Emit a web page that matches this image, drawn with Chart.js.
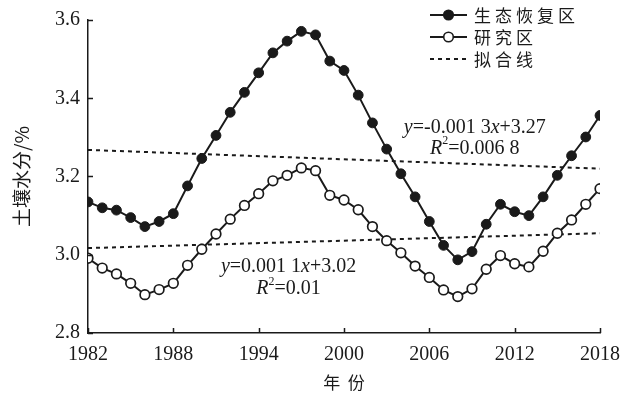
<!DOCTYPE html>
<html>
<head>
<meta charset="utf-8">
<script src="https://cdn.jsdelivr.net/npm/chart.js@4"></script>
<style>
  body { margin: 0; background: #fff; }
  #wrap { width: 621px; height: 398px; }
</style>
</head>
<body>
<div id="wrap"><canvas id="soilChart" width="621" height="398"></canvas></div>
<script>
// data
const years = [1982, 1983, 1984, 1985, 1986, 1987, 1988, 1989, 1990, 1991, 1992, 1993,
  1994, 1995, 1996, 1997, 1998, 1999, 2000, 2001, 2002, 2003, 2004, 2005, 2006, 2007,
  2008, 2009, 2010, 2011, 2012, 2013, 2014, 2015, 2016, 2017, 2018];
const restored = [3.135, 3.120, 3.114, 3.095, 3.072, 3.085, 3.105, 3.176, 3.246, 3.305,
  3.364, 3.415, 3.465, 3.516, 3.546, 3.571, 3.562, 3.495, 3.471, 3.408, 3.337, 3.270,
  3.207, 3.148, 3.085, 3.024, 2.987, 3.008, 3.078, 3.129, 3.110, 3.100, 3.148, 3.203,
  3.253, 3.301, 3.356];
const study = [2.991, 2.966, 2.951, 2.927, 2.898, 2.911, 2.927, 2.973, 3.014, 3.053,
  3.091, 3.126, 3.156, 3.189, 3.203, 3.222, 3.215, 3.152, 3.140, 3.115, 3.072, 3.036,
  3.005, 2.971, 2.942, 2.910, 2.893, 2.913, 2.963, 2.998, 2.977, 2.969, 3.009, 3.055,
  3.089, 3.129, 3.169];
const fitYears = [1982, 2018];
const fitRestored = [3.268, 3.220];
const fitStudy = [3.017, 3.055];
const xTicks = [1982, 1988, 1994, 2000, 2006, 2012, 2018];
const yTicks = [2.8, 3.0, 3.2, 3.4, 3.6];
const seriesNames = ['生态恢复区', '研究区', '拟合线'];

const ink = '#1a1a1a';
const serif = "'Liberation Serif', 'DejaVu Serif', serif";
const cjk = "'Noto Sans CJK SC', sans-serif";

function pts(xs, ys) {
  return xs.map((x, i) => ({ x: x, y: ys[i] }));
}

// little tick marks pointing into the plot
const innerTicks = {
  id: 'innerTicks',
  afterDraw(chart) {
    const { ctx, chartArea: a, scales: { x, y } } = chart;
    ctx.save();
    ctx.strokeStyle = ink;
    ctx.lineWidth = 1.5;
    ctx.beginPath();
    xTicks.forEach(v => {
      const px = Math.round(x.getPixelForValue(v)) + 0.5;
      ctx.moveTo(px, a.bottom);
      ctx.lineTo(px, a.bottom - 5);
    });
    yTicks.forEach(v => {
      const py = Math.round(y.getPixelForValue(v)) + 0.5;
      ctx.moveTo(a.left, py);
      ctx.lineTo(a.left + 5, py);
    });
    ctx.stroke();
    ctx.restore();
  }
};

// regression equations
function drawEq(ctx, parts, cx, cy) {
  const f = p => (p.i ? 'italic ' : '') + (p.sup ? '12px ' : '20px ') + serif;
  let w = 0;
  parts.forEach(p => {
    ctx.font = f(p);
    w += ctx.measureText(p.t).width;
  });
  let x = cx - w / 2;
  parts.forEach(p => {
    ctx.font = f(p);
    ctx.fillText(p.t, x, p.sup ? cy - 7 : cy);
    x += ctx.measureText(p.t).width;
  });
}

const equations = {
  id: 'equations',
  afterDatasetsDraw(chart) {
    const { ctx, scales: { x, y } } = chart;
    ctx.save();
    ctx.fillStyle = ink;
    ctx.textBaseline = 'middle';
    drawEq(ctx, [{ t: 'y', i: true }, { t: '=-0.001 3' }, { t: 'x', i: true }, { t: '+3.27' }],
      x.getPixelForValue(2009.2), y.getPixelForValue(3.325));
    drawEq(ctx, [{ t: 'R', i: true }, { t: '2', sup: true }, { t: '=0.006 8' }],
      x.getPixelForValue(2009.2), y.getPixelForValue(3.272));
    drawEq(ctx, [{ t: 'y', i: true }, { t: '=0.001 1' }, { t: 'x', i: true }, { t: '+3.02' }],
      x.getPixelForValue(1996.1), y.getPixelForValue(2.969));
    drawEq(ctx, [{ t: 'R', i: true }, { t: '2', sup: true }, { t: '=0.01' }],
      x.getPixelForValue(1996.1), y.getPixelForValue(2.913));
    ctx.restore();
  }
};

// legend: short line with the marker, then the name
const sideLegend = {
  id: 'sideLegend',
  afterDraw(chart) {
    const { ctx } = chart;
    const x0 = 430, x1 = 467, tx = 474;
    const rows = [15, 37, 59];
    ctx.save();
    ctx.strokeStyle = ink;
    ctx.fillStyle = ink;
    rows.forEach((ry, i) => {
      ctx.lineWidth = 2;
      ctx.setLineDash(i === 2 ? [4, 4] : []);
      ctx.beginPath();
      ctx.moveTo(x0, ry);
      ctx.lineTo(x1, ry);
      ctx.stroke();
      ctx.setLineDash([]);
      if (i < 2) {
        ctx.beginPath();
        ctx.arc((x0 + x1) / 2, ry, 4.8, 0, Math.PI * 2);
        ctx.fillStyle = i === 0 ? ink : '#fff';
        ctx.fill();
        ctx.lineWidth = 1.6;
        ctx.stroke();
      }
      ctx.fillStyle = ink;
      ctx.font = '17px ' + cjk;
      ctx.letterSpacing = '4px';
      ctx.textBaseline = 'middle';
      ctx.fillText(seriesNames[i], tx, ry + 1);
    });
    ctx.restore();
  }
};

const ctx = document.getElementById('soilChart').getContext('2d');
const soilChart = new Chart(ctx, {
  type: 'line',
  data: {
    datasets: [
      {
        label: seriesNames[0],
        data: pts(years, restored),
        borderColor: ink,
        borderWidth: 2,
        pointRadius: 4.9,
        pointBackgroundColor: ink,
        pointBorderColor: ink,
        pointBorderWidth: 1,
        tension: 0
      },
      {
        label: seriesNames[1],
        data: pts(years, study),
        borderColor: ink,
        borderWidth: 2,
        pointRadius: 4.8,
        pointBackgroundColor: '#fff',
        pointBorderColor: ink,
        pointBorderWidth: 1.7,
        tension: 0
      },
      {
        label: seriesNames[2],
        data: pts(fitYears, fitRestored),
        borderColor: ink,
        borderWidth: 2,
        borderDash: [4, 4],
        pointRadius: 0
      },
      {
        label: seriesNames[2] + ' ',
        data: pts(fitYears, fitStudy),
        borderColor: ink,
        borderWidth: 2,
        borderDash: [4, 4],
        pointRadius: 0
      }
    ]
  },
  options: {
    responsive: false,
    animation: false,
    layout: { padding: { left: 0, right: 0, top: 16, bottom: 0 } },
    plugins: { legend: { display: false }, tooltip: { enabled: false } },
    scales: {
      x: {
        type: 'linear',
        min: 1982,
        max: 2018,
        afterBuildTicks: s => { s.ticks = xTicks.map(v => ({ value: v })); },
        afterFit: s => { s.height = 65; s.paddingRight = 21; s.paddingLeft = 0; },
        grid: { display: false, drawTicks: false },
        border: { display: true, color: ink, width: 1.5 },
        ticks: {
          color: ink,
          font: { family: serif, size: 20 },
          padding: 10,
          maxRotation: 0,
          callback: v => String(v)
        },
        title: {
          display: true,
          text: '年  份',
          color: ink,
          font: { family: cjk, size: 17 },
          padding: { top: 0, bottom: 5 }
        }
      },
      y: {
        min: 2.8,
        max: 3.6,
        afterBuildTicks: s => { s.ticks = yTicks.map(v => ({ value: v })); },
        afterFit: s => { s.width = 88; },
        grid: { display: false, drawTicks: false },
        border: { display: true, color: ink, width: 1.5 },
        ticks: {
          color: ink,
          font: { family: serif, size: 20 },
          padding: 8,
          callback: v => v.toFixed(1)
        },
        title: {
          display: true,
          text: '土壤水分/%',
          color: ink,
          font: { family: cjk, size: 19 },
          padding: { top: 10, bottom: 4 }
        }
      }
    }
  },
  plugins: [innerTicks, equations, sideLegend]
});
</script>
</body>
</html>
